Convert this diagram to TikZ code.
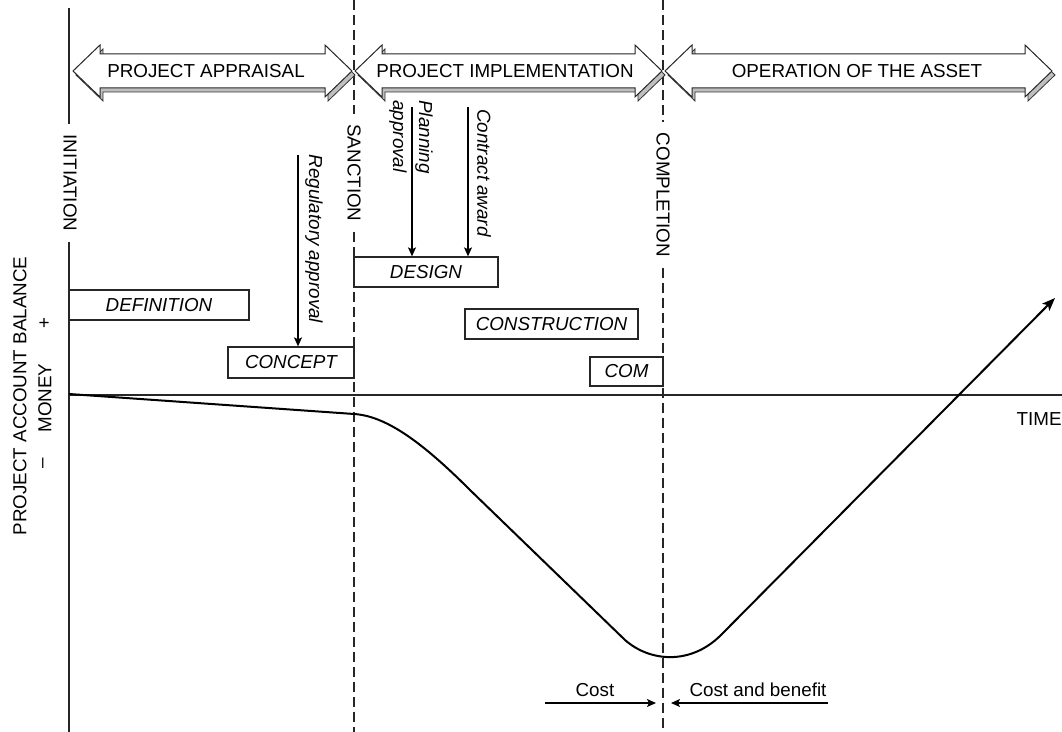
\documentclass[tikz,border=0pt]{standalone}
\usepackage{fontspec}
\setmainfont{Liberation Sans}
\usetikzlibrary{arrows.meta}
\newcommand\blockarr[2]{%
  \filldraw[fill=gray!50, draw=black!80, line width=0.4pt, shift={(3,4)}]
    (#1,71) -- (#1+27,45) -- (#1+27,54) -- (#2-27,54) -- (#2-27,45) -- (#2,71)
    -- (#2-27,97) -- (#2-27,88) -- (#1+27,88) -- (#1+27,97) -- cycle;
  \filldraw[fill=white, draw=black!85, line width=0.5pt]
    (#1,71) -- (#1+27,45) -- (#1+27,54) -- (#2-27,54) -- (#2-27,45) -- (#2,71)
    -- (#2-27,97) -- (#2-27,88) -- (#1+27,88) -- (#1+27,97) -- cycle;
}
\begin{document}
\begin{tikzpicture}[x=0.5pt,y=-0.5pt,
  lbl/.style={font=\fontsize{9.4}{11}\selectfont, inner sep=0pt},
  itl/.style={font=\fontsize{9.4}{13}\selectfont\itshape, inner sep=0pt},
  milestone/.style={font=\fontsize{9.4}{11}\selectfont, rotate=-90, inner xsep=5pt, inner ysep=0pt},
  phase/.style={draw=black!85, line width=0.6pt, dash pattern=on 5pt off 2.5pt},
  stagebox/.style={draw=black!85, line width=0.65pt, fill=white, inner sep=0pt,
    font=\fontsize{9.4}{11}\selectfont\itshape},
  event/.style={draw=black, line width=0.6pt, -{Stealth[length=4.5pt,width=4pt,inset=1pt]}},
  curve/.style={draw=black, line width=1pt, -{Stealth[length=6.5pt,width=5pt,inset=1.5pt]}}
]
\useasboundingbox (0,0) rectangle (1062,732);

% milestone labels
\node[milestone] (init) at (70,183) {INITIATION};
\node[milestone] (sanc) at (354,173) {SANCTION};
\node[milestone] (compl) at (663,195) {COMPLETION};

% milestone lines
\coordinate (initTop) at (69,8);
\coordinate (initBot) at (69,732);
\coordinate (sancTop) at (354,0);
\coordinate (sancBot) at (354,732);
\coordinate (complTop) at (663,0);
\coordinate (complBot) at (663,732);
\draw[black!85, line width=0.6pt] (initTop) -- (initTop |- init.west);
\draw[black!85, line width=0.6pt] (initBot |- init.east) -- (initBot);
\draw[phase] (sancTop) -- (sancTop |- sanc.west);
\draw[phase] (sancBot |- sanc.east) -- (sancBot);
\draw[phase] (complTop) -- (complTop |- compl.west);
\draw[phase] (complBot |- compl.east) -- (complBot);

% phase arrows
\blockarr{73}{352}
\blockarr{355}{662}
\blockarr{665}{1052}
\node[lbl] (appr) at (206,71) {PROJECT APPRAISAL};
\node[lbl] (impl) at (505,71) {PROJECT IMPLEMENTATION};
\node[lbl] (oper) at (857,71) {OPERATION OF THE ASSET};

% axis
\coordinate (axL) at (69,395);
\coordinate (axR) at (1062,395);
\draw[black!85, line width=0.6pt] (axL) -- (axR);
\node[lbl, anchor=east] (time) at (1062,419) {TIME};

% y label
\node[lbl, rotate=90] (yl) at (20,396) {PROJECT ACCOUNT BALANCE};
\node[lbl, rotate=90] (money) at (45,398) {MONEY};
\node[lbl, rotate=90] (plus) at (45,323) {+};
\node[lbl, rotate=90] (minus) at (45,463) {–};

% stage boxes
\node[stagebox, minimum width=90pt, minimum height=15pt] (def) at (159,305) {DEFINITION};
\node[stagebox, minimum width=63pt, minimum height=15.5pt] (concept) at (291,362.5) {CONCEPT};
\node[stagebox, minimum width=72pt, minimum height=15pt] (design) at (426,272) {DESIGN};
\node[stagebox, minimum width=86.5pt, minimum height=15pt] (constr) at (551.5,324) {CONSTRUCTION};
\node[stagebox, minimum width=36.5pt, minimum height=14.5pt] (com) at (626.5,371.5) {COM};

% events
\node[itl, rotate=-90] (reg) at (314,239) {Regulatory approval};
\node[itl, rotate=-90, align=left] (plan) at (411,137) {Planning\\approval};
\node[itl, rotate=-90] (contr) at (484,173) {Contract award};
\coordinate (regS) at (298,155);
\coordinate (planS) at (412,107);
\coordinate (contrS) at (468,107);
\draw[event] (regS) -- (regS |- concept.north);
\draw[event] (planS) -- (planS |- design.north);
\draw[event] (contrS) -- (contrS |- design.north);

% balance curve
\coordinate (o) at (69,394);
\coordinate (s) at (354,414);
\coordinate (d) at (470,490);
\coordinate (e) at (625,640);
\coordinate (r) at (720,636);
\coordinate (tip) at (1055,298);
\draw[curve] (o) -- (s) .. controls (385,416) and (420,440) .. (d) -- (e)
  .. controls (650,662) and (690,665) .. (r) -- (tip);

% cost arrows
\node[lbl] (cost) at (595,690) {Cost};
\node[lbl] (cab) at (758,690) {Cost and benefit};
\coordinate (c1s) at (545,703);
\coordinate (c1e) at (656,703);
\coordinate (c2s) at (828,703);
\coordinate (c2e) at (671,703);
\draw[event] (c1s) -- (c1e);
\draw[event] (c2s) -- (c2e);
\end{tikzpicture}
\end{document}
